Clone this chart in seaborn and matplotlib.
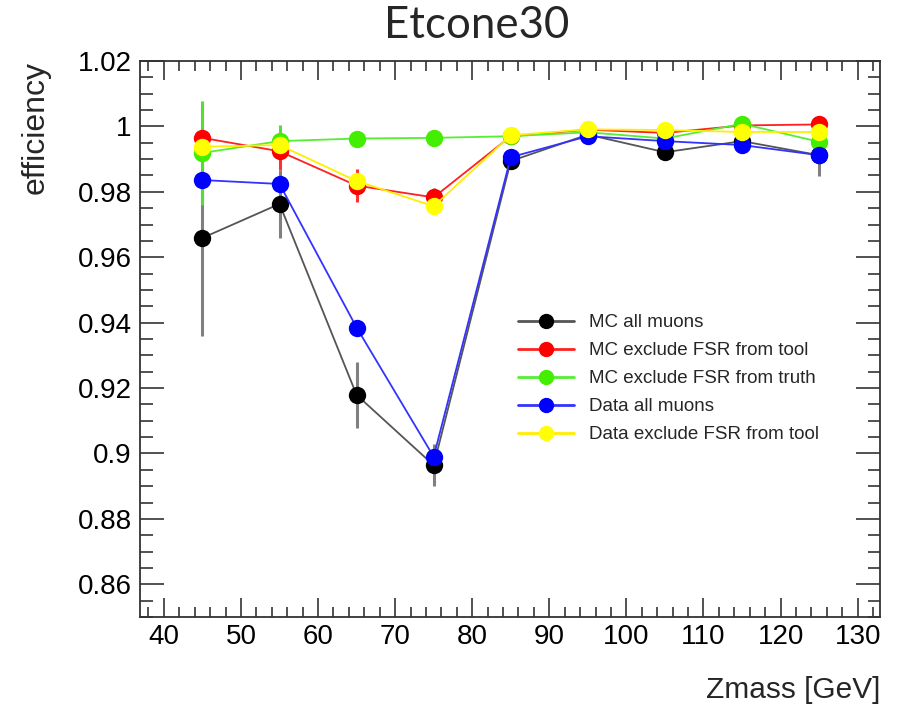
import numpy as np
import pandas as pd
import matplotlib
matplotlib.use("Agg")
import matplotlib.pyplot as plt
from matplotlib.ticker import MultipleLocator, FixedLocator
from matplotlib.lines import Line2D
import seaborn as sns

# ---- data ----
zmass = [45, 55, 65, 75, 85, 95, 105, 115, 125]
series_names = ["MC all muons", "MC exclude FSR from tool", "MC exclude FSR from truth",
                "Data all muons", "Data exclude FSR from tool"]
mc_all = [0.9659, 0.9763, 0.9179, 0.8964, 0.9894, 0.9975, 0.9921, 0.9955, 0.9912]
mc_all_err = [0.030, 0.0105, 0.0101, 0.0064, 0.0010, 0.0010, 0.0010, 0.0010, 0.0065]
mc_tool = [0.9965, 0.9924, 0.9819, 0.9783, 0.9970, 0.9990, 0.9980, 1.0003, 1.0006]
mc_tool_err = [0.0030, 0.0056, 0.0051, 0.0030, 0.0008, 0.0008, 0.0008, 0.0008, 0.0008]
mc_truth = [0.9919, 0.9955, 0.9963, 0.9965, 0.9970, 0.9982, 0.9963, 1.0008, 0.9953]
mc_truth_err = [0.016, 0.0050, 0.0010, 0.0008, 0.0008, 0.0008, 0.0008, 0.0008, 0.0008]
data_all = [0.9836, 0.9824, 0.9385, 0.8990, 0.9906, 0.9970, 0.9955, 0.9943, 0.9912]
data_all_err = [0.0008] * 9
data_tool = [0.9938, 0.9943, 0.9833, 0.9756, 0.9973, 0.9991, 0.9989, 0.9983, 0.9983]
data_tool_err = [0.0008] * 9

values = [mc_all, mc_tool, mc_truth, data_all, data_tool]
errors = [mc_all_err, mc_tool_err, mc_truth_err, data_all_err, data_tool_err]
colors = ["#000000", "#ff0000", "#44ee00", "#0000ff", "#ffff00"]
line_colors = ["#555555", "#ff2020", "#55ee33", "#3333ff", "#ffee00"]
err_colors = ["#808080", "#ff3030", "#55dd33", "#3333ff", "#eedd00"]

df = pd.DataFrame({
    "Zmass": np.tile(zmass, len(series_names)),
    "eff": np.concatenate(values),
    "err": np.concatenate(errors),
    "series": np.repeat(series_names, len(zmass)),
})

sns.set_theme(style="white")
plt.rcParams["font.family"] = ["Liberation Sans", "DejaVu Sans"]

fig = plt.figure(figsize=(8.99, 7.13), dpi=100)
ax = fig.add_axes([140 / 899, 96 / 713, 740 / 899, 556 / 713])

for name, lc, mc, ec in zip(series_names, line_colors, colors, err_colors):
    sub = df[df["series"] == name]
    ax.errorbar(sub["Zmass"], sub["eff"], yerr=sub["err"], fmt="none",
                ecolor=ec, elinewidth=2.2, capsize=0, zorder=2)
    sns.lineplot(data=sub, x="Zmass", y="eff", ax=ax, color=lc, linewidth=1.3,
                 marker="o", markersize=12.5, markerfacecolor=mc, markeredgecolor=mc,
                 markeredgewidth=0, legend=False, zorder=3, errorbar=None, sort=False)

ax.set_xlim(36.9, 132.9)
ax.set_ylim(0.85, 1.02)

ax.xaxis.set_major_locator(MultipleLocator(10))
ax.xaxis.set_minor_locator(MultipleLocator(2))
ax.yaxis.set_major_locator(FixedLocator([0.86, 0.88, 0.90, 0.92, 0.94, 0.96, 0.98, 1.00, 1.02]))
ax.yaxis.set_minor_locator(MultipleLocator(0.005))
ax.set_yticklabels(["0.86", "0.88", "0.9", "0.92", "0.94", "0.96", "0.98", "1", "1.02"])

ax.tick_params(axis="both", which="both", direction="in", top=True, right=True,
               bottom=True, left=True, colors="#333333", labelcolor="black", labelsize=20)
ax.tick_params(axis="y", which="major", length=17, width=1.2, pad=6)
ax.tick_params(axis="y", which="minor", length=9, width=1.2)
ax.tick_params(axis="x", which="major", length=14, width=1.2, pad=5)
ax.tick_params(axis="x", which="minor", length=7, width=1.2)
for s in ax.spines.values():
    s.set_visible(True)
    s.set_color("#333333")
    s.set_linewidth(1.3)

ax.set_xlabel("Zmass [GeV]", fontsize=21.5, loc="right")
ax.xaxis.set_label_coords(1.0, -0.131)
ax.xaxis.label.set_va("center")
ax.set_ylabel("efficiency", fontsize=23, loc="top")
ax.yaxis.set_label_coords(-0.121, 1.0)

handles = [Line2D([0], [0], color=lc, lw=2, marker="o", markersize=10,
                  markerfacecolor=mc, markeredgecolor=mc)
           for lc, mc in zip(line_colors, colors)]
ax.legend(handles, series_names, loc="upper left", bbox_to_anchor=(0.488, 0.575),
          frameon=False, fontsize=13.5, handlelength=3.0, labelspacing=0.58,
          handletextpad=0.8)

fig.text(477 / 899, 1 - 25 / 713, "Etcone30", ha="center", va="center",
         fontsize=31.5, family=["Lato", "DejaVu Sans"])

fig.savefig("out.png", dpi=100)
